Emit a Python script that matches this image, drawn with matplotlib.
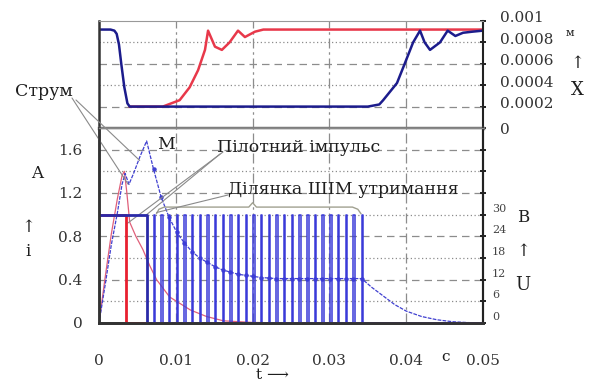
import matplotlib
matplotlib.use("Agg")
import matplotlib.pyplot as plt
import matplotlib.transforms as mtransforms

plt.rcParams['font.family'] = ['DejaVu Serif', 'DejaVu Sans']

# --- top panel: armature position X, m
t_x_blue = [0, 0.0015, 0.0020, 0.0023, 0.0026, 0.0029, 0.0033, 0.0037, 0.004, 0.035,
            0.0365, 0.037, 0.0388, 0.0398, 0.0409, 0.0418, 0.0424, 0.0431, 0.0444,
            0.0454, 0.0464, 0.0474, 0.0486, 0.05]
x_blue = [0.00092, 0.00092, 0.00091, 0.00088, 0.00078, 0.00060, 0.00038, 0.00023, 0.0002,
          0.0002, 0.00022, 0.00026, 0.00042, 0.0006, 0.0008, 0.00091, 0.00080, 0.00073,
          0.0008, 0.00091, 0.00086, 0.00089, 0.0009, 0.00091]
t_x_red = [0.004, 0.0083, 0.0105, 0.0118, 0.0129, 0.0138, 0.0142, 0.0151, 0.016, 0.017,
           0.0181, 0.019, 0.0203, 0.0214, 0.05]
x_red = [0.0002, 0.0002, 0.00026, 0.00038, 0.00054, 0.00073, 0.00091, 0.00076, 0.00073,
         0.0008, 0.00091, 0.00085, 0.0009, 0.00092, 0.00092]

# --- lower panel: supply voltage U, V
t_u_red = [0, 0.0035, 0.0035, 0.05]
u_red = [30, 30, 0, 0]
pilot_end = 0.0063
pwm_starts = [0.0071, 0.0081, 0.0091, 0.0101, 0.0111, 0.0121, 0.0131, 0.0141, 0.0151,
              0.0161, 0.0171, 0.0181, 0.0191, 0.0201, 0.0211, 0.0221, 0.0231, 0.0241,
              0.0251, 0.0261, 0.0271, 0.0281, 0.0291, 0.0301, 0.0311, 0.0321, 0.0331,
              0.0342]
pwm_width = 0.00018
u_level = 30

# --- lower panel: coil currents i, A
t_i_blue = [0, 0.0008, 0.0016, 0.0024, 0.003, 0.0034, 0.0039, 0.0045, 0.0053, 0.0062,
            0.0071, 0.0081, 0.0091, 0.0101, 0.0111, 0.0121, 0.0131, 0.0141, 0.0151,
            0.0161, 0.0171, 0.0181, 0.0191, 0.0201, 0.0211, 0.0221, 0.0231, 0.0241,
            0.0251, 0.0261, 0.0271, 0.0281, 0.0291, 0.0301, 0.0311, 0.0321, 0.0331,
            0.0342, 0.0355, 0.037, 0.0385, 0.040, 0.042, 0.044, 0.046, 0.048, 0.05]
i_blue = [0, 0.35, 0.72, 1.02, 1.28, 1.38, 1.28, 1.38, 1.53, 1.68,
          1.42, 1.16, 0.98, 0.84, 0.74, 0.66, 0.60, 0.56, 0.52,
          0.49, 0.47, 0.45, 0.44, 0.43, 0.42, 0.415, 0.41, 0.41,
          0.41, 0.41, 0.41, 0.41, 0.41, 0.41, 0.41, 0.41, 0.41,
          0.41, 0.33, 0.25, 0.17, 0.11, 0.06, 0.03, 0.012, 0.004, 0]
t_i_red = [0, 0.0008, 0.0016, 0.0024, 0.003, 0.0033, 0.0036, 0.004, 0.0048, 0.0057,
           0.0066, 0.0075, 0.0092, 0.0119, 0.014, 0.0162, 0.02, 0.025, 0.05]
i_red = [0, 0.42, 0.82, 1.15, 1.36, 1.40, 1.22, 0.93, 0.80, 0.68,
         0.53, 0.40, 0.24, 0.12, 0.06, 0.02, 0.005, 0, 0]

# brace over the PWM hold section
t_brace = [0.0075, 0.0078, 0.0085, 0.0195, 0.0200, 0.0205, 0.0330, 0.0337, 0.0341]
i_brace = [1.01, 1.05, 1.07, 1.07, 1.11, 1.07, 1.07, 1.05, 1.01]

x_ticks = [0, 0.01, 0.02, 0.03, 0.04, 0.05]
x_labels = ['0', '0.01', '0.02', '0.03', '0.04', '0.05']
top_ticks = [0, 0.0002, 0.0004, 0.0006, 0.0008, 0.001]
top_labels = ['0', '0.0002', '0.0004', '0.0006', '0.0008', '0.001']
i_ticks = [0, 0.4, 0.8, 1.2, 1.6]
i_labels = ['0', '0.4', '0.8', '1.2', '1.6']
u_ticks = [0, 6, 12, 18, 24, 30, 36, 42, 48]
u_labels = ['0', '6', '12', '18', '24', '30', '', '', '']

W, H = 592, 385
fig = plt.figure(figsize=(W / 100, H / 100), dpi=100)

def fx(px):
    return px / W

def fy(py):
    return 1 - py / H

left, right = 99, 483
ax_top = fig.add_axes([fx(left), fy(128), fx(right - left), fy(21) - fy(128)])
ax = fig.add_axes([fx(left), fy(323), fx(right - left), fy(128) - fy(323)])
ax_u = ax.twinx()

grid_col = '#8c8c8c'
text_col = '#1e1e1e'
tick_col = '#333333'

def lift(labels, px):
    off = mtransforms.ScaledTranslation(0, px / 100, fig.dpi_scale_trans)
    for lab in labels:
        lab.set_transform(lab.get_transform() + off)

# ---------- top panel
ax_top.set_xlim(0, 0.05)
ax_top.set_ylim(0, 0.001)
for k, v in enumerate(top_ticks[1:-1]):
    ax_top.axhline(v, color=grid_col, lw=0.9, ls=(0, (6, 4)) if k % 2 == 0 else (0, (1, 2)))
for v in x_ticks[1:-1]:
    ax_top.axvline(v, color=grid_col, lw=0.9, ls=(0, (8, 3, 2, 3)))
ax_top.plot(t_x_red, x_red, color='#e8384a', lw=1.8)
ax_top.plot(t_x_blue, x_blue, color='#1c1c8c', lw=1.8)
ax_top.yaxis.tick_right()
ax_top.set_yticks(top_ticks)
ax_top.set_yticklabels(top_labels, fontsize=11, color=tick_col)
ax_top.tick_params(axis='y', direction='inout', length=5, width=1.4, pad=10, colors='#222222')
ax_top.tick_params(axis='y', labelcolor=tick_col)
lift(ax_top.get_yticklabels()[1:], 4)
ax_top.set_xticks([])
ax_top.spines['left'].set_linewidth(1.8)
ax_top.spines['left'].set_color('#333333')
ax_top.spines['right'].set_linewidth(1.5)
ax_top.spines['right'].set_color('#222222')
ax_top.spines['top'].set_linewidth(0.8)
ax_top.spines['top'].set_color('#999999')
ax_top.spines['bottom'].set_linewidth(2.5)
ax_top.spines['bottom'].set_color('#7a7a7a')

# ---------- lower panel
ax.set_xlim(0, 0.05)
ax.set_ylim(0, 1.8)
ax_u.set_ylim(0, 54)
for k, v in enumerate([0.2, 0.4, 0.6, 0.8, 1.0, 1.2, 1.4, 1.6]):
    ax.axhline(v, color=grid_col, lw=0.9, ls=(0, (1, 2)) if k % 2 == 0 else (0, (6, 4)))
for v in x_ticks[1:-1]:
    ax.axvline(v, color=grid_col, lw=0.9, ls=(0, (8, 3, 2, 3)))

# currents
ax.plot(t_i_red, i_red, color='#e0607a', lw=0.9)
ax.plot(t_i_blue, i_blue, color='#4040d0', lw=0.9, ls=(0, (3, 1)),
        marker='o', markersize=2.2, markevery=list(range(10, 38)))

# voltages
ax_u.plot(t_u_red, u_red, color='#e82030', lw=2.0)
tb = [0, pilot_end, pilot_end]
ub = [u_level, u_level, 0]
for s in pwm_starts:
    tb += [s, s, s + pwm_width, s + pwm_width]
    ub += [0, u_level, u_level, 0]
tb += [0.05]
ub += [0]
ax_u.plot(tb[:3], ub[:3], color='#2a2aa8', lw=2.0)
ax_u.plot(tb[2:], ub[2:], color='#3a3ad8', lw=1.1)

ax.plot(t_brace, i_brace, color='#a0a090', lw=1.0)

ax.set_xticks(x_ticks)
ax.set_xticklabels(x_labels, fontsize=11, color=tick_col)
ax.tick_params(axis='x', length=0, pad=22)
ax.set_yticks(i_ticks)
ax.set_yticklabels(i_labels, fontsize=11, color=tick_col)
ax.tick_params(axis='y', length=0, pad=12)
ax_u.set_yticks(u_ticks)
ax_u.set_yticklabels(u_labels, fontsize=8, color='#444444')
ax_u.tick_params(axis='y', direction='inout', length=5, width=1.4, pad=4, colors='#222222')
ax_u.tick_params(axis='y', labelcolor='#444444')
lift(ax_u.get_yticklabels(), 7)
for a in (ax, ax_u):
    a.spines['left'].set_linewidth(1.8)
    a.spines['left'].set_color('#333333')
    a.spines['bottom'].set_linewidth(2.0)
    a.spines['bottom'].set_color('#333333')
    a.spines['right'].set_linewidth(1.5)
    a.spines['right'].set_color('#222222')
    a.spines['top'].set_linewidth(1.0)
    a.spines['top'].set_color('#888888')

# ---------- labels
fs = 12.5
fig.text(fx(570), fy(33), 'м', fontsize=8, color=text_col, ha='center', va='center')
fig.text(fx(577), fy(64), '↑', fontsize=12, color=text_col, ha='center', va='center')
fig.text(fx(577), fy(90), 'X', fontsize=13, color=text_col, ha='center', va='center')
fig.text(fx(523), fy(218), 'B', fontsize=12, color=text_col, ha='center', va='center')
fig.text(fx(523), fy(251), '↑', fontsize=12, color=text_col, ha='center', va='center')
fig.text(fx(523), fy(285), 'U', fontsize=13, color=text_col, ha='center', va='center')
fig.text(fx(37), fy(173), 'A', fontsize=12, color=text_col, ha='center', va='center')
fig.text(fx(28), fy(228), '↑', fontsize=12, color=text_col, ha='center', va='center')
fig.text(fx(28), fy(252), 'i', fontsize=12, color=text_col, ha='center', va='center')
fig.text(fx(445), fy(357), 'c', fontsize=11, color=text_col, ha='center', va='center')
fig.text(fx(272), fy(375), 't ⟶', fontsize=11, color=text_col, ha='center', va='center')

line_kw = dict(arrowstyle='-', color='#8a8a8a', lw=0.8, shrinkA=0, shrinkB=0)
ax.annotate('Струм', xy=(0.0038, 1.28), xytext=(fx(44), fy(91)),
            textcoords='figure fraction', fontsize=fs, color=text_col, ha='center',
            va='center', annotation_clip=False)
ax.annotate('', xy=(0.0038, 1.28), xytext=(fx(72), fy(98)), textcoords='figure fraction',
            arrowprops=line_kw, annotation_clip=False)
ax.annotate('', xy=(0.0053, 1.5), xytext=(fx(76), fy(100)), textcoords='figure fraction',
            arrowprops=line_kw, annotation_clip=False)
ax.text(0.0076, 1.65, 'М', fontsize=fs, color=text_col, ha='left', va='center')
ax.annotate('Пілотний імпульс', xy=(0.0062, 1.0), xytext=(fx(217), fy(148)),
            textcoords='figure fraction', fontsize=fs, color=text_col, ha='left',
            va='center', annotation_clip=False)
ax.annotate('', xy=(0.0062, 1.0), xytext=(fx(220), fy(154)), textcoords='figure fraction',
            arrowprops=line_kw, annotation_clip=False)
ax.annotate('', xy=(0.0037, 0.92), xytext=(fx(223), fy(152)), textcoords='figure fraction',
            arrowprops=line_kw, annotation_clip=False)
ax.annotate('Ділянка ШІМ утримання', xy=(0.0075, 1.02), xytext=(fx(228), fy(190)),
            textcoords='figure fraction', fontsize=fs, color=text_col, ha='left',
            va='center', annotation_clip=False)
ax.annotate('', xy=(0.0075, 1.02), xytext=(fx(228), fy(195)), textcoords='figure fraction',
            arrowprops=line_kw, annotation_clip=False)

fig.savefig('out.png', dpi=100)
